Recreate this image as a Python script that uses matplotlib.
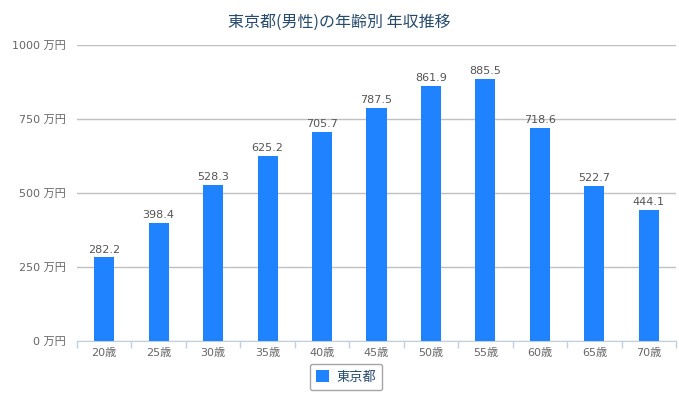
import numpy as np
import matplotlib.pyplot as plt
from matplotlib.ticker import FixedLocator

plt.rcParams['font.family'] = ['DejaVu Sans', 'Noto Sans CJK JP']

# data
ages = ['20歳', '25歳', '30歳', '35歳', '40歳', '45歳', '50歳', '55歳', '60歳', '65歳', '70歳']
income = [282.2, 398.4, 528.3, 625.2, 705.7, 787.5, 861.9, 885.5, 718.6, 522.7, 444.1]
y_ticks = [0, 250, 500, 750, 1000]
series_name = '東京都'

fig = plt.figure(figsize=(6.79, 3.97), dpi=100)
ax = fig.add_axes([77/679, 56/397, 599/679, 296/397])

x = np.arange(len(ages))
bars = ax.bar(x, income, width=0.37, color='#1f82ff', label=series_name, zorder=3)

for xi, v in zip(x, income):
    ax.text(xi, v + 10, f'{v:.1f}', ha='center', va='bottom', fontsize=8, color='#555555')

ax.set_xlim(-0.5, len(ages) - 0.5)
ax.set_ylim(0, 1000)
ax.set_yticks(y_ticks)
ax.set_yticklabels([f'{t} 万円' for t in y_ticks], fontsize=8, color='#666666')
ax.tick_params(axis='y', length=0, pad=8)
ax.yaxis.grid(True, color='#c0c0c0', linewidth=1, zorder=0)

ax.set_xticks(x)
ax.set_xticklabels(ages, fontsize=8, color='#666666')
ax.tick_params(axis='x', which='major', length=0, pad=5)
ax.xaxis.set_minor_locator(FixedLocator(np.arange(-0.5, len(ages), 1.0)))
ax.tick_params(axis='x', which='minor', length=5, color='#c0d0e0', width=1)

for s in ['top', 'right', 'left']:
    ax.spines[s].set_visible(False)
ax.spines['bottom'].set_color('#c0d0e0')

fig.text(0.5, 1 - 22/397, '東京都(男性)の年齢別 年収推移', ha='center', va='center',
         fontsize=11.5, color='#274b6d', family=['Noto Sans CJK JP', 'DejaVu Sans'])

leg = fig.legend(loc='center', bbox_to_anchor=(346/679, 1 - 377/397), fontsize=9.5,
                 frameon=True, fancybox=True, edgecolor='#909090', handlelength=1.0,
                 handleheight=1.0, handletextpad=0.5, borderpad=0.5,
                 prop={'family': ['Noto Sans CJK JP'], 'size': 9.5})
for t in leg.get_texts():
    t.set_color('#274b6d')
leg.get_frame().set_linewidth(1)

fig.savefig('out.png', dpi=100)
